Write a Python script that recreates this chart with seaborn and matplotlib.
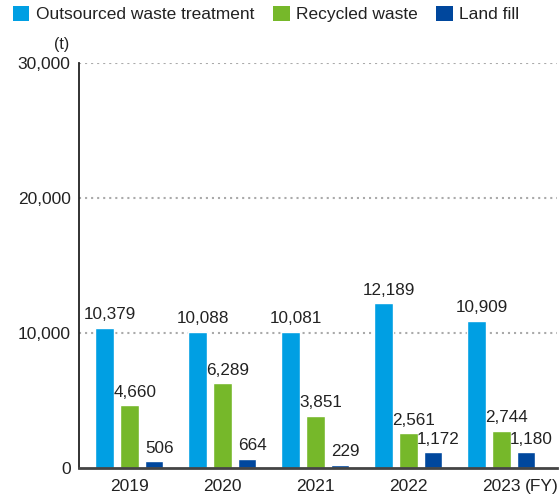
import matplotlib
matplotlib.use("Agg")
import matplotlib.pyplot as plt
import seaborn as sns
import pandas as pd
from matplotlib.patches import Patch
from matplotlib.ticker import FuncFormatter

years = ["2019", "2020", "2021", "2022", "2023"]
series = ["Outsourced waste treatment", "Recycled waste", "Land fill"]
outsourced = [10379, 10088, 10081, 12189, 10909]
recycled = [4660, 6289, 3851, 2561, 2744]
landfill = [506, 664, 229, 1172, 1180]
colors = ["#009fe3", "#76b82a", "#00479d"]

rows = []
for s, vals in zip(series, [outsourced, recycled, landfill]):
    for y, v in zip(years, vals):
        rows.append({"year": y, "series": s, "value": v})
df = pd.DataFrame(rows)

sns.set_theme(style="white")
plt.rcParams["font.family"] = ["Liberation Sans", "DejaVu Sans"]

fig = plt.figure(figsize=(5.6, 4.97), dpi=100)
ax = fig.add_axes([79/560, 29/497, 478/560, 405/497])

sns.barplot(data=df, x="year", y="value", hue="series", palette=colors,
            width=0.8, gap=0.24, ax=ax, legend=False, saturation=1, errorbar=None)

ax.set_xlim(-0.54, 4.6)
ax.set_ylim(0, 30000)
ax.set_yticks([0, 10000, 20000, 30000])
ax.yaxis.set_major_formatter(FuncFormatter(lambda v, p: f"{int(v):,}"))
ax.tick_params(axis="both", length=0, labelsize=12.5, colors="#222222", pad=6)
ax.tick_params(axis="x", pad=8)
ax.set_xlabel("")
ax.set_ylabel("")
for y in [10000, 20000, 30000]:
    ax.axhline(y, color="#aaaaaa", lw=1.5, ls=(0, (1, 1.9)), zorder=0)

for sp in ["top", "right"]:
    ax.spines[sp].set_visible(False)
ax.spines["left"].set_color("#222222")
ax.spines["left"].set_linewidth(1.3)
ax.spines["bottom"].set_color("#444444")
ax.spines["bottom"].set_linewidth(2)

for cont in ax.containers:
    for bar in cont:
        h = bar.get_height()
        xc = bar.get_x() + bar.get_width() / 2 + 0.06
        ax.annotate(f"{int(h):,}", (xc, h), xytext=(0, 4), textcoords="offset points",
                    ha="center", va="bottom", fontsize=12.3, color="#222222")

ax.annotate("(FY)", xy=(1.0, 0), xycoords="axes fraction", xytext=(1.5, -8),
            textcoords="offset points", ha="right", va="top", fontsize=12.5, color="#222222")
fig.text(62/560, 1 - 45/497, "(t)", ha="center", va="center", fontsize=11.5, color="#222222")

handles = [Patch(facecolor=c, edgecolor="none") for c in colors]
fig.legend(handles, series, loc="upper left", bbox_to_anchor=(13/560, 1 - 6/497),
           ncol=3, frameon=False, fontsize=12.5, handlelength=0.95, handleheight=0.95,
           handletextpad=0.35, columnspacing=1.1, borderpad=0, borderaxespad=0,
           labelcolor="#222222")

fig.savefig("out.png", dpi=100)
